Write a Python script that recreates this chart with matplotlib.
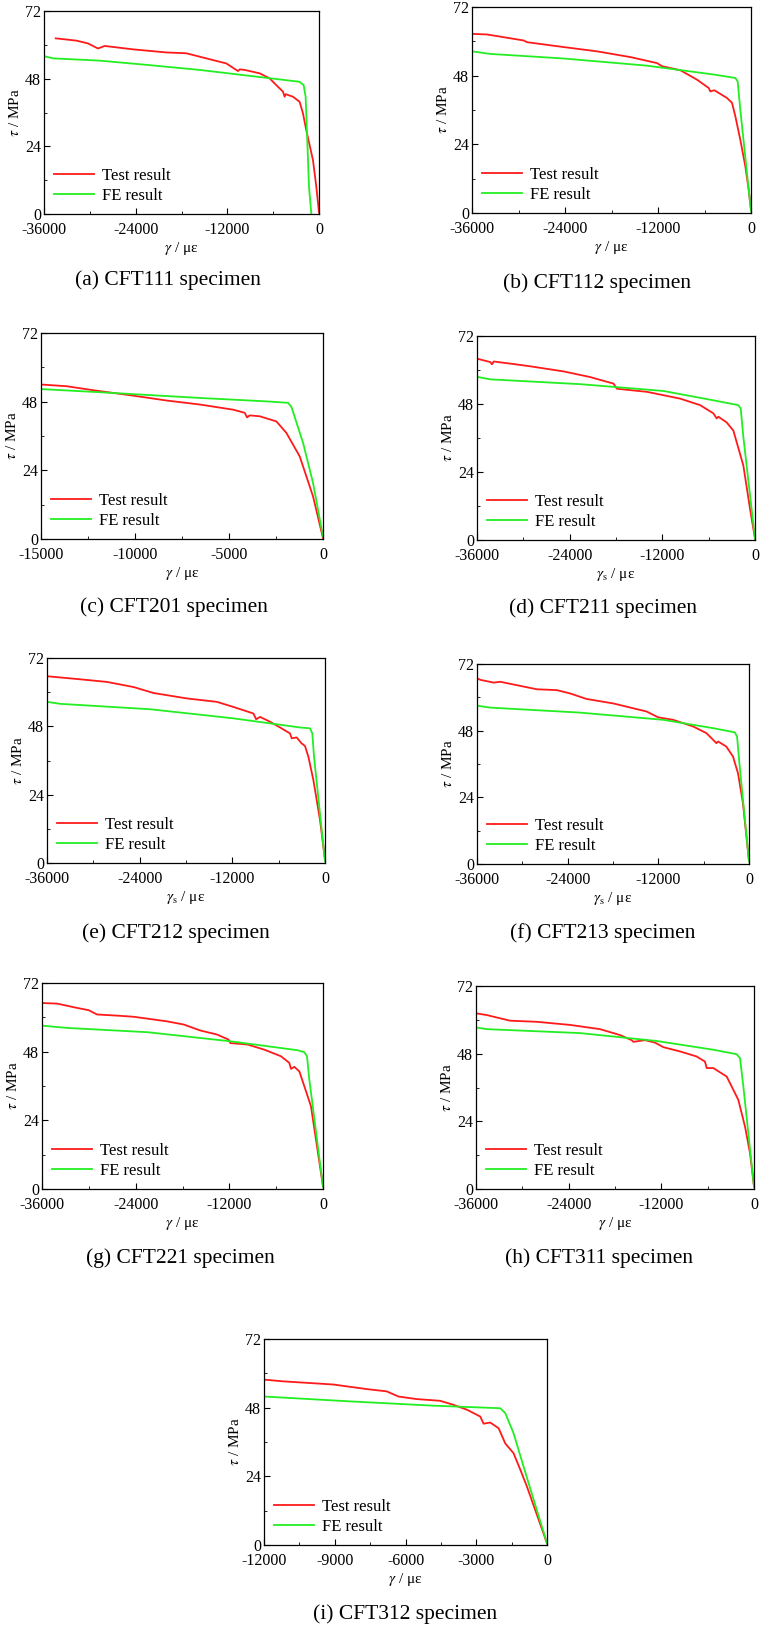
import matplotlib
matplotlib.use("Agg")
import matplotlib.pyplot as plt
from matplotlib.ticker import MultipleLocator

plt.rcParams["font.family"] = ["Liberation Serif", "DejaVu Serif"]
plt.rcParams["mathtext.fontset"] = "stix"
plt.rcParams["axes.unicode_minus"] = False

# ---- data (gamma in micro-strain, tau in MPa) ----
a_test_x = [-34470, -31770, -30240, -28930, -28060, -24350, -19990, -17370, -15620, -13880,
            -12130, -10600, -10380, -9730, -7770, -6460, -5590, -4720, -4500, -4370,
            -3410, -2540, -2100, -1670, -790, -350, 0]
a_test_y = [62.3, 61.5, 60.5, 58.7, 59.6, 58.4, 57.3, 57.0, 55.8, 54.6,
            53.4, 50.7, 51.3, 51.1, 49.9, 48.1, 45.7, 43.4, 41.6, 42.5,
            41.6, 39.8, 35.7, 29.8, 19.1, 9.7, 0.5]
a_fe_x = [-36000, -34820, -28710, -22170, -15620, -6900, -2540, -2010, -1750, -1570, -1310, -1000]
a_fe_y = [56.0, 55.2, 54.4, 52.8, 51.1, 48.3, 46.9, 45.7, 41.6, 28.6, 9.7, 0.0]

b_test_x = [-36000, -34065, -29330, -28900, -24170, -19870, -15570, -12130, -11480, -9120,
            -6970, -5460, -5250, -4730, -3100, -2450, -2020, -1380, -730, -300, 0]
b_test_y = [62.6, 62.4, 60.3, 59.7, 58.0, 56.5, 54.5, 52.4, 51.3, 49.9,
            46.6, 43.7, 42.5, 42.9, 40.2, 38.5, 33.8, 25.6, 16.3, 8.2, 1.0]
b_fe_x = [-36000, -33630, -24170, -13420, -4820, -2020, -1720, -1380, 0]
b_fe_y = [56.5, 55.6, 54.0, 51.5, 48.4, 47.2, 46.0, 36.1, 0.6]

c_test_x = [-15000, -13640, -12220, -10090, -8320, -6550, -4780, -4160, -4040, -3900,
            -3370, -2480, -1950, -1240, -530, 0]
c_test_y = [54.0, 53.4, 52.0, 50.1, 48.4, 47.0, 45.2, 44.1, 42.5, 43.2,
            42.9, 41.1, 37.1, 28.9, 14.9, 0.3]
c_fe_x = [-15000, -11870, -6550, -3010, -1860, -1680, -1060, -530, 0]
c_fe_y = [52.4, 51.3, 49.3, 48.1, 47.6, 46.2, 33.6, 19.6, 0.9]

d_test_x = [-36000, -34275, -34060, -33840, -31260, -29100, -24790, -21340, -18320, -17890,
            -16160, -14010, -11850, -9700, -7110, -5390, -4960, -4740, -3670, -2800,
            -2370, -1510, -650, 0]
d_test_y = [64.0, 62.8, 62.0, 63.0, 62.1, 61.3, 59.5, 57.5, 55.2, 53.4,
            52.9, 52.3, 51.1, 49.9, 47.6, 44.7, 42.9, 43.5, 41.5, 38.6,
            34.5, 26.3, 11.1, 0.5]
d_fe_x = [-36000, -34275, -22630, -11850, -5390, -2160, -1850, -1510, 0]
d_fe_y = [57.6, 56.7, 55.0, 52.6, 49.3, 47.6, 46.4, 36.4, 0.5]

e_test_x = [-36000, -31260, -28240, -24790, -22200, -17890, -14010, -11850, -9260, -8920,
            -8400, -7110, -5820, -4530, -4310, -3670, -3020, -2590, -2150, -1510,
            -650, 0]
e_test_y = [65.6, 64.4, 63.6, 61.8, 59.7, 57.8, 56.6, 54.8, 52.5, 50.5,
            51.3, 49.6, 47.6, 45.5, 43.8, 44.1, 42.0, 41.1, 37.3, 29.2,
            15.2, 1.2]
e_fe_x = [-36000, -34275, -22630, -11850, -3230, -1940, -1640, -1420, 0]
e_fe_y = [56.6, 55.9, 54.0, 50.8, 47.6, 47.3, 45.5, 37.3, 0.6]

f_test_x = [-36000, -35560, -33800, -32920, -28080, -25440, -23680, -21480, -17960, -13560,
            -12020, -10040, -7390, -5630, -4310, -4090, -3010, -2120, -1460, -800, 0]
f_test_y = [66.9, 66.3, 65.3, 65.6, 62.9, 62.6, 61.4, 59.4, 57.8, 54.9,
            52.8, 51.9, 49.5, 47.1, 43.5, 44.1, 42.3, 38.7, 32.7, 21.9, 1.0]
f_fe_x = [-36000, -34240, -22360, -11350, -4750, -1890, -1580, -1230, 0]
f_fe_y = [57.0, 56.3, 54.5, 51.9, 48.9, 47.4, 45.9, 35.1, 1.0]

g_test_x = [-36000, -34080, -31520, -30020, -28950, -26390, -24260, -19990, -17860, -15720,
            -13580, -12090, -11870, -9660, -7520, -5390, -4320, -4100, -3670, -3030,
            -2390, -1540, -770, 0]
g_test_y = [65.0, 64.8, 63.3, 62.5, 61.0, 60.6, 60.2, 58.6, 57.5, 55.4,
            54.0, 52.2, 51.0, 50.5, 48.7, 46.4, 44.1, 42.0, 42.7, 41.1,
            35.9, 28.9, 14.9, 0.9]
g_fe_x = [-36000, -32800, -22460, -11790, -3250, -2390, -2050, -1750, 0]
g_fe_y = [57.1, 56.3, 54.8, 51.6, 48.5, 47.8, 46.4, 38.2, 0.9]

h_test_x = [-36000, -34620, -31600, -28140, -23830, -19940, -17350, -15840, -15620, -14100,
            -12800, -11740, -9590, -7430, -6350, -6130, -5270, -3540, -2680, -2030,
            -1170, -520, 0]
h_test_y = [62.3, 61.7, 59.7, 59.3, 58.2, 56.7, 54.6, 52.8, 52.2, 52.8,
            51.9, 50.3, 48.8, 47.0, 45.2, 42.9, 42.9, 39.9, 35.2, 31.6,
            22.2, 12.8, 0.9]
h_fe_x = [-36000, -34620, -22530, -12610, -5270, -2240, -1810, -1380, 0]
h_fe_y = [57.3, 56.7, 55.3, 52.5, 49.4, 47.8, 46.4, 36.4, 0.9]

i_test_x = [-12000, -11190, -9070, -7650, -6800, -6300, -5530, -4530, -3970, -3400,
            -2830, -2690, -2410, -2050, -1770, -1420, -1130, -850, 0]
i_test_y = [57.8, 57.2, 56.1, 54.5, 53.7, 51.9, 51.0, 50.4, 49.0, 47.3,
            44.9, 42.4, 42.8, 40.8, 35.5, 32.1, 26.3, 20.4, 0.6]
i_fe_x = [-12000, -8360, -4820, -1980, -1770, -1420, -780, 0]
i_fe_y = [51.9, 50.2, 48.7, 47.8, 46.1, 39.1, 21.6, 0.6]

captions = ["(a) CFT111 specimen", "(b) CFT112 specimen", "(c) CFT201 specimen",
            "(d) CFT211 specimen", "(e) CFT212 specimen", "(f) CFT213 specimen",
            "(g) CFT221 specimen", "(h) CFT311 specimen", "(i) CFT312 specimen"]
x_mins = [-36000, -36000, -15000, -36000, -36000, -36000, -36000, -36000, -12000]
x_steps = [12000, 12000, 5000, 12000, 12000, 12000, 12000, 12000, 3000]
x_labels = [r"$\gamma$ / με", r"$\gamma$ / με", r"$\gamma$ / με",
            r"$\gamma_{\rm s}$ / με", r"$\gamma_{\rm s}$ / με", r"$\gamma_{\rm s}$ / με",
            r"$\gamma$ / με", r"$\gamma$ / με", r"$\gamma$ / με"]

tests = [(a_test_x, a_test_y), (b_test_x, b_test_y), (c_test_x, c_test_y),
         (d_test_x, d_test_y), (e_test_x, e_test_y), (f_test_x, f_test_y),
         (g_test_x, g_test_y), (h_test_x, h_test_y), (i_test_x, i_test_y)]
fes = [(a_fe_x, a_fe_y), (b_fe_x, b_fe_y), (c_fe_x, c_fe_y),
       (d_fe_x, d_fe_y), (e_fe_x, e_fe_y), (f_fe_x, f_fe_y),
       (g_fe_x, g_fe_y), (h_fe_x, h_fe_y), (i_fe_x, i_fe_y)]

# axes boxes in pixels: left, top, right, bottom ; caption centre x, y
W, H = 760, 1628
boxes = [(44, 11, 319, 214), (472, 7, 751, 213),
         (41, 333, 323, 539), (477, 336, 755, 540),
         (47, 658, 325, 863), (477, 664, 749, 864),
         (42, 983, 323, 1189), (476, 986, 754, 1189),
         (264, 1339, 547, 1545)]
cap_pos = [(168, 280), (597, 283), (174, 607), (603, 608), (176, 933),
           (603, 933), (180, 1258), (599, 1258), (405, 1614)]

fig = plt.figure(figsize=(W / 100, H / 100), dpi=100)

for k in range(9):
    l, t, r, b = boxes[k]
    ax = fig.add_axes([l / W, 1 - b / H, (r - l) / W, (b - t) / H])
    ax.plot(tests[k][0], tests[k][1], color="#ff1a1a", lw=1.3, label="Test result")
    ax.plot(fes[k][0], fes[k][1], color="#22ee22", lw=1.3, label="FE result")
    ax.set_xlim(x_mins[k], 0)
    ax.set_ylim(0, 72)
    ax.xaxis.set_major_locator(MultipleLocator(x_steps[k]))
    ax.xaxis.set_minor_locator(MultipleLocator(x_steps[k] / 2))
    ax.yaxis.set_major_locator(MultipleLocator(24))
    ax.yaxis.set_minor_locator(MultipleLocator(12))
    ax.tick_params(which="both", direction="in", labelsize=11.5)
    ax.tick_params(axis="x", pad=6)
    ax.tick_params(axis="y", pad=2)
    ax.tick_params(which="major", length=4)
    ax.tick_params(which="minor", length=2.5)
    for s in ax.spines.values():
        s.set_linewidth(0.9)
    ax.set_xlabel(x_labels[k], fontsize=11, labelpad=1)
    ax.set_ylabel(r"$\tau$ / MPa", fontsize=11, labelpad=2)
    ax.legend(loc="lower left", frameon=False, fontsize=12, handlelength=2.4,
              labelspacing=0.25, borderaxespad=0.2, handletextpad=0.5)
    cx, cy = cap_pos[k]
    fig.text(cx / W, 1 - cy / H, captions[k], ha="center", va="center", fontsize=15.5)

fig.savefig("out.png", dpi=100)
